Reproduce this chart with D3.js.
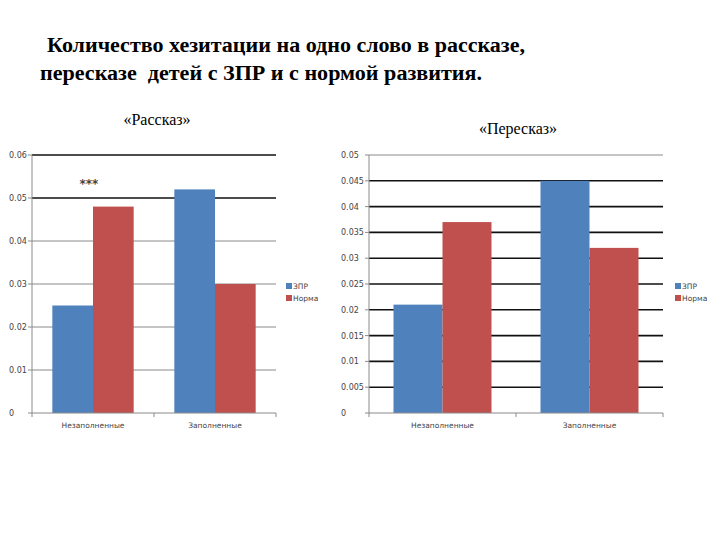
<!DOCTYPE html>
<html>
<head>
<meta charset="utf-8">
<script src="https://cdn.jsdelivr.net/npm/d3@7"></script>
<style>
  body { margin: 0; background: #fff; }
  svg { display: block; }
</style>
</head>
<body>
<div id="chart"></div>
<script>
const categories = ["Незаполненные", "Заполненные"]
const seriesNames = ["ЗПР", "Норма"]
const seriesColors = ["#4F81BD", "#C0504D"]

// «Рассказ»
const storyZpr = [0.025, 0.052]
const storyNorm = [0.048, 0.030]
const storyTicks = [0, 0.01, 0.02, 0.03, 0.04, 0.05, 0.06]
const storyDark = [0.05, 0.06]

// «Пересказ»
const retellZpr = [0.021, 0.045]
const retellNorm = [0.037, 0.032]
const retellTicks = [0, 0.005, 0.01, 0.015, 0.02, 0.025, 0.03, 0.035, 0.04, 0.045, 0.05]
const retellDark = [0.005, 0.01, 0.015, 0.02, 0.025, 0.03, 0.035, 0.04, 0.045]

const W = 720, H = 540
const svg = d3.select("#chart").append("svg").attr("width", W).attr("height", H)

// title
svg.append("text")
    .attr("x", 47).attr("y", 52)
    .attr("font-family", "'Liberation Serif', 'Times New Roman', serif")
    .attr("font-weight", "bold").attr("font-size", 20)
    .attr("textLength", 478).attr("lengthAdjust", "spacingAndGlyphs")
    .text("Количество хезитации на одно слово в рассказе,")
svg.append("text")
    .attr("x", 40).attr("y", 80)
    .attr("font-family", "'Liberation Serif', 'Times New Roman', serif")
    .attr("font-weight", "bold").attr("font-size", 20)
    .style("white-space", "pre")
    .attr("textLength", 442).attr("lengthAdjust", "spacingAndGlyphs")
    .text("пересказе  детей с ЗПР и с нормой развития.")

function drawChart(cfg) {
    const g = svg.append("g")
    const values = [cfg.zpr, cfg.norm]

    g.append("text")
        .attr("x", cfg.titleX).attr("y", cfg.titleY)
        .attr("text-anchor", "middle")
        .attr("font-family", "'Liberation Serif', 'Times New Roman', serif")
        .attr("font-size", 16)
        .text(cfg.title)

    var y = d3.scaleLinear().domain([0, cfg.max]).range([cfg.y0, cfg.y1])
    var x = d3.scaleBand().domain(categories).range([cfg.x0, cfg.x1])
    var xs = d3.scaleBand().domain(seriesNames).range([0, x.bandwidth()]).paddingOuter(0.5)

    // gridlines
    g.selectAll("line.grid")
        .data(cfg.ticks.filter(t => t > 0))
        .enter()
        .append("line")
        .attr("x1", cfg.x0).attr("x2", cfg.x1)
        .attr("y1", d => y(d)).attr("y2", d => y(d))
        .attr("stroke", d => cfg.dark.includes(d) ? "#111" : "#8a8a8a")
        .attr("stroke-width", d => cfg.dark.includes(d) ? 1.6 : 1)

    // bars
    seriesNames.forEach((s, si) => {
        g.selectAll("rect.s" + si)
            .data(categories)
            .enter()
            .append("rect")
            .attr("x", c => x(c) + xs(s))
            .attr("width", xs.bandwidth())
            .attr("y", (c, i) => y(values[si][i]))
            .attr("height", (c, i) => cfg.y0 - y(values[si][i]))
            .attr("fill", seriesColors[si])
    })

    // y axis
    g.append("line")
        .attr("x1", cfg.x0).attr("x2", cfg.x0)
        .attr("y1", cfg.y1).attr("y2", cfg.y0)
        .attr("stroke", "#8a8a8a")
    g.selectAll("line.ytick")
        .data(cfg.ticks)
        .enter()
        .append("line")
        .attr("x1", cfg.x0 - 4).attr("x2", cfg.x0)
        .attr("y1", d => y(d)).attr("y2", d => y(d))
        .attr("stroke", "#8a8a8a")
    g.selectAll("text.ylab")
        .data(cfg.ticks)
        .enter()
        .append("text")
        .attr("x", cfg.labelX)
        .attr("y", d => y(d) + 3)
        .attr("font-family", "'DejaVu Sans', Verdana, sans-serif")
        .attr("font-size", 8)
        .attr("fill", "#444")
        .text(d => d === 0 ? "0" : String(d))

    // x axis
    g.append("line")
        .attr("x1", cfg.x0).attr("x2", cfg.x1)
        .attr("y1", cfg.y0).attr("y2", cfg.y0)
        .attr("stroke", "#8a8a8a")
    g.selectAll("line.xtick")
        .data([cfg.x0, cfg.x0 + x.step(), cfg.x1])
        .enter()
        .append("line")
        .attr("x1", d => d).attr("x2", d => d)
        .attr("y1", cfg.y0).attr("y2", cfg.y0 + 4)
        .attr("stroke", "#8a8a8a")
    g.selectAll("text.xlab")
        .data(categories)
        .enter()
        .append("text")
        .attr("x", c => x(c) + x.bandwidth() / 2)
        .attr("y", cfg.y0 + 15)
        .attr("text-anchor", "middle")
        .attr("font-family", "'DejaVu Sans', Verdana, sans-serif")
        .attr("font-size", 7.5)
        .attr("fill", "#444")
        .text(c => c)

    // legend
    seriesNames.forEach((s, si) => {
        g.append("rect")
            .attr("x", cfg.legX).attr("y", cfg.legY + si * 12 - 3)
            .attr("width", 6).attr("height", 6)
            .attr("fill", seriesColors[si])
        g.append("text")
            .attr("x", cfg.legX + 7).attr("y", cfg.legY + si * 12 + 3)
            .attr("font-family", "'DejaVu Sans', Verdana, sans-serif")
            .attr("font-size", 7.5)
            .attr("fill", "#444")
            .text(s)
    })

    return { g, x, y, xs }
}

var story = drawChart({
    title: "«Рассказ»", titleX: 157, titleY: 125,
    zpr: storyZpr, norm: storyNorm, ticks: storyTicks, dark: storyDark, max: 0.06,
    x0: 32, x1: 276, y0: 413, y1: 155, labelX: 9,
    legX: 286, legY: 286
})

// significance mark over first group
story.g.append("text")
    .attr("x", story.x(categories[0]) + story.xs(seriesNames[0]) + story.xs.bandwidth() * 0.9)
    .attr("y", 188)
    .attr("text-anchor", "middle")
    .attr("font-family", "'DejaVu Sans', sans-serif")
    .attr("font-weight", "bold")
    .attr("font-size", 12)
    .attr("fill", "#444")
    .text("***")

drawChart({
    title: "«Пересказ»", titleX: 518, titleY: 134,
    zpr: retellZpr, norm: retellNorm, ticks: retellTicks, dark: retellDark, max: 0.05,
    x0: 369, x1: 663, y0: 413, y1: 155, labelX: 341,
    legX: 675, legY: 286
})
</script>
</body>
</html>
